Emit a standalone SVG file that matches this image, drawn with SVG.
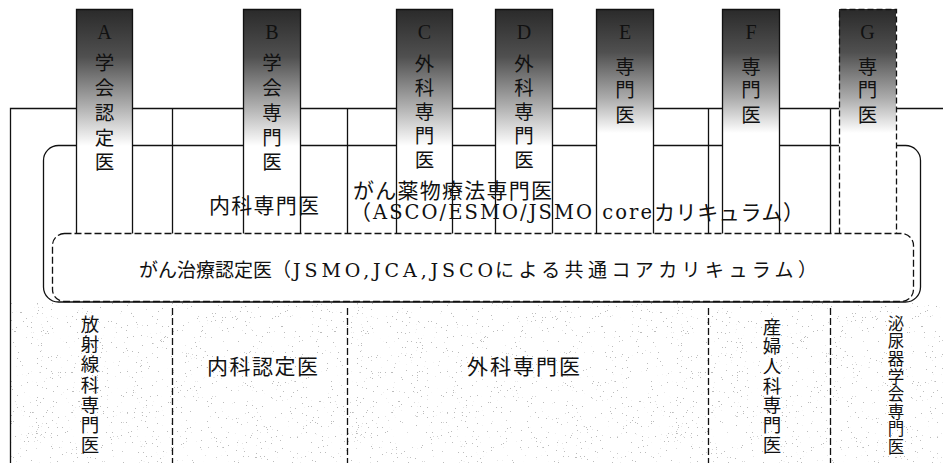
<svg xmlns="http://www.w3.org/2000/svg" width="943" height="463" viewBox="0 0 943 463">
<style>
text{font-family:"Liberation Serif","Noto Sans CJK JP",serif;fill:#111}
.ln{fill:none;stroke:#111;stroke-width:1.3}
.dl{fill:none;stroke:#111;stroke-width:1.3;stroke-dasharray:7 3}
.dg{fill:none;stroke:#111;stroke-width:1.3;stroke-dasharray:6 3}
.ct{font-size:19.5px;text-anchor:middle}
.cl{font-size:20px}
.vt{font-size:18.5px;text-anchor:middle}
.lb{font-size:21px}
.lat{font-family:"DejaVu Serif",serif;font-size:19.5px}
.sm{font-size:19px}
</style>
<defs>
<linearGradient id="g1" gradientUnits="userSpaceOnUse" x1="0" y1="9" x2="0" y2="146">
<stop offset="0" stop-color="#2a2a2a"/><stop offset="0.35" stop-color="#505050"/><stop offset="0.7" stop-color="#acacac"/><stop offset="1" stop-color="#fff"/>
</linearGradient>
<linearGradient id="g2" gradientUnits="userSpaceOnUse" x1="0" y1="9" x2="0" y2="133">
<stop offset="0" stop-color="#2a2a2a"/><stop offset="0.35" stop-color="#505050"/><stop offset="0.72" stop-color="#acacac"/><stop offset="1" stop-color="#fff"/>
</linearGradient>
<filter id="speck" x="0" y="0" width="1" height="1" filterUnits="objectBoundingBox">
<feTurbulence type="fractalNoise" baseFrequency="0.8" numOctaves="2" seed="7"/>
<feColorMatrix type="matrix" values="0 0 0 0 0.5  0 0 0 0 0.5  0 0 0 0 0.5  -30 0 0 0 8.1"/>
</filter>
</defs>
<rect width="943" height="463" fill="#fff"/>
<rect x="11" y="303" width="932" height="160" fill="#fff" filter="url(#speck)"/>

<g id="frame">
<path class="ln" d="M10.5,463V108.5H943"/>
<rect class="ln" x="43.5" y="145.5" width="877" height="156.5" rx="15"/>
<path class="ln" d="M172.5,108.5V233.5M347.5,108.5V233.5M708.5,108.5V233.5M830.5,108.5V233.5"/>
<path class="dl" d="M172.5,308V463M347.5,308V463M708.5,308V463M830.5,308V463"/>
</g>

<g id="col-A">
<rect x="76" y="9" width="57" height="224.5" fill="url(#g1)"/>
<path class="ln" d="M76.5,233.5V9.5H132.5V233.5"/>
<text class="ct"><tspan class="cl" x="104.5" y="38.6">A</tspan><tspan x="104.5" y="69.8">学</tspan><tspan x="104.5" y="94.8">会</tspan><tspan x="104.5" y="119.8">認</tspan><tspan x="104.5" y="144.8">定</tspan><tspan x="104.5" y="168.8">医</tspan></text>
</g>
<g id="col-B">
<rect x="243" y="9" width="58" height="224.5" fill="url(#g1)"/>
<path class="ln" d="M243.5,233.5V9.5H300.5V233.5"/>
<text class="ct"><tspan class="cl" x="272" y="38.6">B</tspan><tspan x="272" y="69.8">学</tspan><tspan x="272" y="94.8">会</tspan><tspan x="272" y="119.8">専</tspan><tspan x="272" y="144.8">門</tspan><tspan x="272" y="168.8">医</tspan></text>
</g>
<g id="col-C">
<rect x="396" y="9" width="57" height="224.5" fill="url(#g1)"/>
<path class="ln" d="M396.5,233.5V9.5H452.5V233.5"/>
<text class="ct"><tspan class="cl" x="424.5" y="38.6">C</tspan><tspan x="424.5" y="70.8">外</tspan><tspan x="424.5" y="94.8">科</tspan><tspan x="424.5" y="118.8">専</tspan><tspan x="424.5" y="142.8">門</tspan><tspan x="424.5" y="166.8">医</tspan></text>
</g>
<g id="col-D">
<rect x="495" y="9" width="58" height="224.5" fill="url(#g1)"/>
<path class="ln" d="M495.5,233.5V9.5H552.5V233.5"/>
<text class="ct"><tspan class="cl" x="524" y="38.6">D</tspan><tspan x="524" y="70.8">外</tspan><tspan x="524" y="94.8">科</tspan><tspan x="524" y="118.8">専</tspan><tspan x="524" y="142.8">門</tspan><tspan x="524" y="166.8">医</tspan></text>
</g>
<g id="col-E">
<rect x="596" y="9" width="58" height="224.5" fill="url(#g2)"/>
<path class="ln" d="M596.5,233.5V9.5H653.5V233.5"/>
<text class="ct"><tspan class="cl" x="625" y="38.6">E</tspan><tspan x="625" y="73.8">専</tspan><tspan x="625" y="96.8">門</tspan><tspan x="625" y="121.8">医</tspan></text>
</g>
<g id="col-F">
<rect x="722" y="9" width="58" height="224.5" fill="url(#g2)"/>
<path class="ln" d="M722.5,233.5V9.5H779.5V233.5"/>
<text class="ct"><tspan class="cl" x="751" y="38.6">F</tspan><tspan x="751" y="73.8">専</tspan><tspan x="751" y="96.8">門</tspan><tspan x="751" y="121.8">医</tspan></text>
</g>
<g id="col-G">
<rect x="839" y="9" width="57" height="224.5" fill="url(#g2)"/>
<path class="dg" d="M839.5,233.5V9.5H896.5V233.5"/>
<text class="ct"><tspan class="cl" x="867.5" y="38.6">G</tspan><tspan x="867.5" y="73.8">専</tspan><tspan x="867.5" y="96.8">門</tspan><tspan x="867.5" y="121.8">医</tspan></text>
</g>

<g id="naika-senmon">
<text class="lb" x="209" y="212.5" textLength="110" lengthAdjust="spacing">内科専門医</text>
</g>
<g id="gan-yakubutsu">
<text class="lb" x="353" y="197.5" textLength="199" lengthAdjust="spacing">がん薬物療法専門医</text>
<text class="lb" x="350" y="219.5">（</text>
<text class="lat" x="373" y="219" textLength="279" lengthAdjust="spacing">ASCO/ESMO/JSMO core</text>
<text class="lb" x="654" y="219.5" textLength="150" lengthAdjust="spacing">カリキュラム）</text>
</g>
<g id="gan-chiryo">
<rect class="dl" x="52.5" y="233.5" width="861" height="68" rx="12"/>
<text class="sm" x="139" y="277" textLength="152" lengthAdjust="spacing">がん治療認定医（</text>
<text class="lat" x="293" y="276.5" textLength="200" lengthAdjust="spacing" style="font-size:19px">JSMO,JCA,JSCO</text>
<text class="sm" x="495" y="277" textLength="322" lengthAdjust="spacing">による共通コアカリキュラム）</text>
</g>

<g id="housyasen">
<text class="vt"><tspan x="90" y="330.6">放</tspan><tspan x="90" y="350.9">射</tspan><tspan x="90" y="371.2">線</tspan><tspan x="90" y="391.5">科</tspan><tspan x="90" y="411.8">専</tspan><tspan x="90" y="432.1">門</tspan><tspan x="90" y="452.4">医</tspan></text>
</g>
<g id="naika-nintei">
<text class="lb" x="207" y="373.5" textLength="111" lengthAdjust="spacing">内科認定医</text>
</g>
<g id="geka-senmon">
<text class="lb" x="467" y="373.5" textLength="113" lengthAdjust="spacing">外科専門医</text>
</g>
<g id="sanfujinka">
<text class="vt"><tspan x="772" y="333.6">産</tspan><tspan x="772" y="353.3">婦</tspan><tspan x="772" y="372.9">人</tspan><tspan x="772" y="392.6">科</tspan><tspan x="772" y="412.3">専</tspan><tspan x="772" y="431.9">門</tspan><tspan x="772" y="451.6">医</tspan></text>
</g>
<g id="hinyoki">
<text class="vt" style="font-size:16.5px"><tspan x="896" y="329.8">泌</tspan><tspan x="896" y="347.4">尿</tspan><tspan x="896" y="364.9">器</tspan><tspan x="896" y="382.5">学</tspan><tspan x="896" y="400.1">会</tspan><tspan x="896" y="417.7">専</tspan><tspan x="896" y="435.2">門</tspan><tspan x="896" y="452.8">医</tspan></text>
</g>
</svg>
